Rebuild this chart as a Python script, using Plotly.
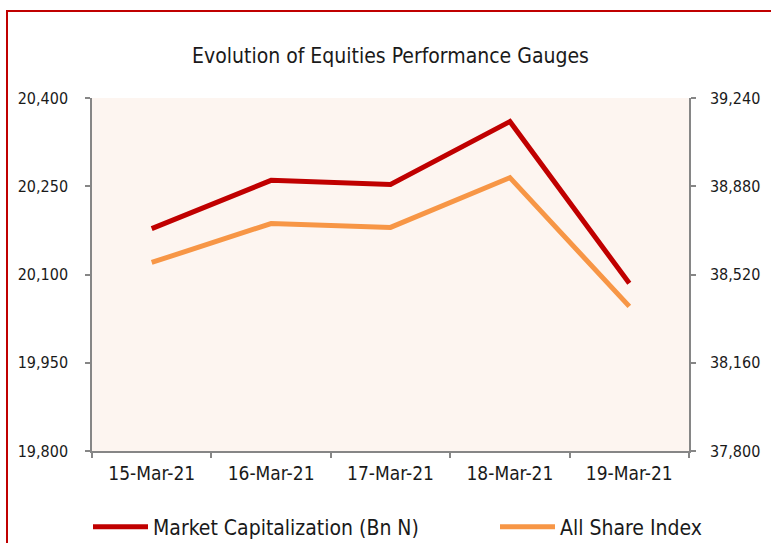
import plotly.graph_objects as go

dates = ["15-Mar-21", "16-Mar-21", "17-Mar-21", "18-Mar-21", "19-Mar-21"]
market_cap = [20178, 20260, 20253, 20360, 20085]
asi = [38569, 38728, 38712, 38915, 38390]
left_ticks = [19800, 19950, 20100, 20250, 20400]
right_ticks = [37800, 38160, 38520, 38880, 39240]

FONT = "DejaVu Sans Condensed, Liberation Sans, sans-serif"
AX = "#868686"
W, H = 771, 543
L, R, T, B = 92, 82, 98, 92
PW, PH = W - L - R, H - T - B

fig = go.Figure()
fig.add_trace(go.Scatter(x=dates, y=market_cap, name="Market Capitalization (Bn N)",
                         mode="lines", line=dict(color="#C00000", width=5), yaxis="y",
                         legend="legend"))
fig.add_trace(go.Scatter(x=dates, y=asi, name="All Share Index",
                         mode="lines", line=dict(color="#F79646", width=5), yaxis="y2",
                         legend="legend2"))

leg_y = -(527 - (H - B)) / PH
leg_common = dict(orientation="h", xanchor="left", y=leg_y, yanchor="middle",
                  font=dict(family=FONT, size=21, color="#1a1a1a"),
                  bgcolor="rgba(0,0,0,0)", itemwidth=55, borderwidth=0)

fig.update_layout(
    width=W, height=H,
    margin=dict(l=L, r=R, t=T, b=B, autoexpand=False),
    paper_bgcolor="white", plot_bgcolor="#FDF5F0",
    font=dict(family=FONT, size=15, color="#1a1a1a"),
    title=dict(text="Evolution of Equities Performance Gauges", x=0.5, xref="paper",
               y=1 - 56 / H, yanchor="middle", font=dict(family=FONT, size=21, color="#1a1a1a")),
    xaxis=dict(type="category", range=[-0.5, 4.5], showgrid=False, showline=True,
               linecolor=AX, linewidth=1.5, ticks="outside", tickson="boundaries",
               ticklen=5, tickcolor=AX, tickwidth=1.5, ticklabelstandoff=4, automargin=False,
               tickfont=dict(size=19)),
    yaxis=dict(range=[19800, 20400], tickvals=left_ticks, tickformat=",", showgrid=False,
               showline=True, linecolor=AX, linewidth=1.5, ticks="outside", ticklen=5,
               tickcolor=AX, tickwidth=1.5, zeroline=False, ticklabelstandoff=14,
               automargin=False, tickfont=dict(size=16)),
    yaxis2=dict(range=[37800, 39240], tickvals=right_ticks, tickformat=",", overlaying="y",
                side="right", showgrid=False, showline=True, linecolor=AX, linewidth=1.5,
                ticks="outside", ticklen=5, tickcolor=AX, tickwidth=1.5, zeroline=False,
                ticklabelstandoff=11, automargin=False, tickfont=dict(size=16)),
    showlegend=True,
    legend=dict(x=(88 - L) / PW, **leg_common),
    legend2=dict(x=(495 - L) / PW, **leg_common),
    shapes=[dict(type="rect", xref="paper", yref="paper",
                 x0=(7 - L) / PW, x1=1.3, y0=-0.5, y1=1 + (T - 11) / PH,
                 line=dict(color="#C00000", width=2), fillcolor="rgba(0,0,0,0)", layer="below")],
)

fig.write_html("out.html", config={"displayModeBar": False},
               post_script="document.body.style.margin='0';")
